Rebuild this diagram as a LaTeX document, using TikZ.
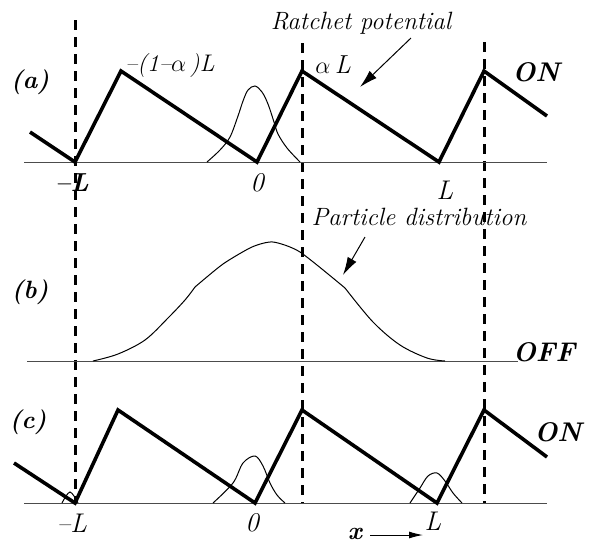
\documentclass[tikz,border=0pt]{standalone}
\usepackage{amsmath, amssymb}
\usetikzlibrary{arrows.meta, positioning}

\begin{document}
\begin{tikzpicture}[
  x=0.5pt, y=-0.5pt,
  saw/.style={line width=1.8pt, line join=miter},
  guide/.style={line width=1.5pt, dash pattern=on 5pt off 3.5pt},
  axisline/.style={line width=0.5pt, black!70},
  density/.style={line width=0.5pt, smooth, tension=0.55},
  note/.style={font=\fontsize{12.5}{15}\selectfont\itshape},
  tag/.style={font=\fontsize{13.5}{16}\selectfont\itshape},
  panel/.style={font=\fontsize{12.5}{15}\selectfont\bfseries\itshape},
  mode/.style={font=\fontsize{13.5}{16}\selectfont\bfseries\itshape},
  pointer/.style={-{Latex[length=9pt, width=5pt]}, line width=0.5pt}
]
\useasboundingbox (0,0) rectangle (590,543);

% guides
\draw[guide] (75,20) -- (75,503);
\draw[guide] (302,43) -- (302,503);
\draw[guide] (484,42) -- (484,503);

% (a) potential on
\draw[axisline] (24,162) -- (547,162);
\draw[saw] (30,132) -- (75,162) -- (121,71) -- (257,162) -- (302,71)
  -- (439,162) -- (484,71) -- (547,116);
\draw[density] plot coordinates {(207,162) (220,150) (230,137) (238,116)
  (243,101) (248,90) (255,86) (262,92) (268,104) (274,122) (278,134)
  (287,148) (300,162)};

\node[panel] (pa) at (30,82) {(a)};
\node[mode] (ona) at (536,72) {ON};
\node[tag, font=\fontsize{12}{14}\selectfont\itshape] (peakl) at (170,66) {--(1--$\alpha$\,)L};
\node[tag, font=\fontsize{13}{15}\selectfont\itshape] (peakr) at (333,65) {$\alpha$\,L};
\node[tag, font=\fontsize{13}{15}\selectfont\bfseries\itshape] (mla) at (72,183) {--L};
\node[tag] (za) at (257,183) {0};
\node[tag] (la) at (445,190) {L};

\node[note] (rp) at (361,23) {Ratchet potential};
\coordinate (rpfrom) at (411,38);
\coordinate (rpto) at (360,87);
\draw[pointer] (rpfrom) -- (rpto);

% (b) potential off
\draw[axisline] (27,361) -- (518,361);
\draw[density] plot coordinates {(93,361) (118,354) (145,340) (168,318)
  (185,300) (195,287)};
\draw[density, tension=0.4] plot coordinates {(195,287) (223,264) (252,247)
  (273,242) (300,252) (345,288)};
\draw[density] plot coordinates {(345,288) (373,322) (400,345) (427,358)
  (445,361)};

\node[panel] (pb) at (30,292) {(b)};
\node[mode] (offb) at (544,352) {OFF};

\node[note] (pd) at (419,217) {Particle distribution};
\coordinate (pdfrom) at (365,237);
\coordinate (pdto) at (343,275);
\draw[pointer] (pdfrom) -- (pdto);

% (c) potential on again
\draw[axisline] (24,503) -- (547,503);
\draw[saw] (14,463) -- (75,503) -- (118,410) -- (255,503) -- (302,410)
  -- (437,503) -- (484,410) -- (547,457);
\draw[density] plot coordinates {(62,503) (66,496) (70,492) (74,496) (78,503)};
\draw[density] plot coordinates {(213,503) (233,483) (243,463) (255,456)
  (263,466) (270,483) (277,495) (285,503)};
\draw[density] plot coordinates {(410,503) (420,488) (428,476) (437,473)
  (445,481) (453,493) (462,503)};

\node[panel] (pc) at (28,422) {(c)};
\node[mode] (onc) at (558,432) {ON};
\node[tag] (mlc) at (72,523) {--L};
\node[tag] (zc) at (252,523) {0};
\node[tag] (lc) at (433,521) {L};

\node[panel, anchor=south, inner sep=0pt] (xl) at (355,540) {x};
\coordinate (xend) at (423,535);
\draw[-{Latex[length=7pt, width=3.5pt]}, line width=0.5pt] (xl.east |- xend) ++(8,0) -- (xend);
\end{tikzpicture}
\end{document}
